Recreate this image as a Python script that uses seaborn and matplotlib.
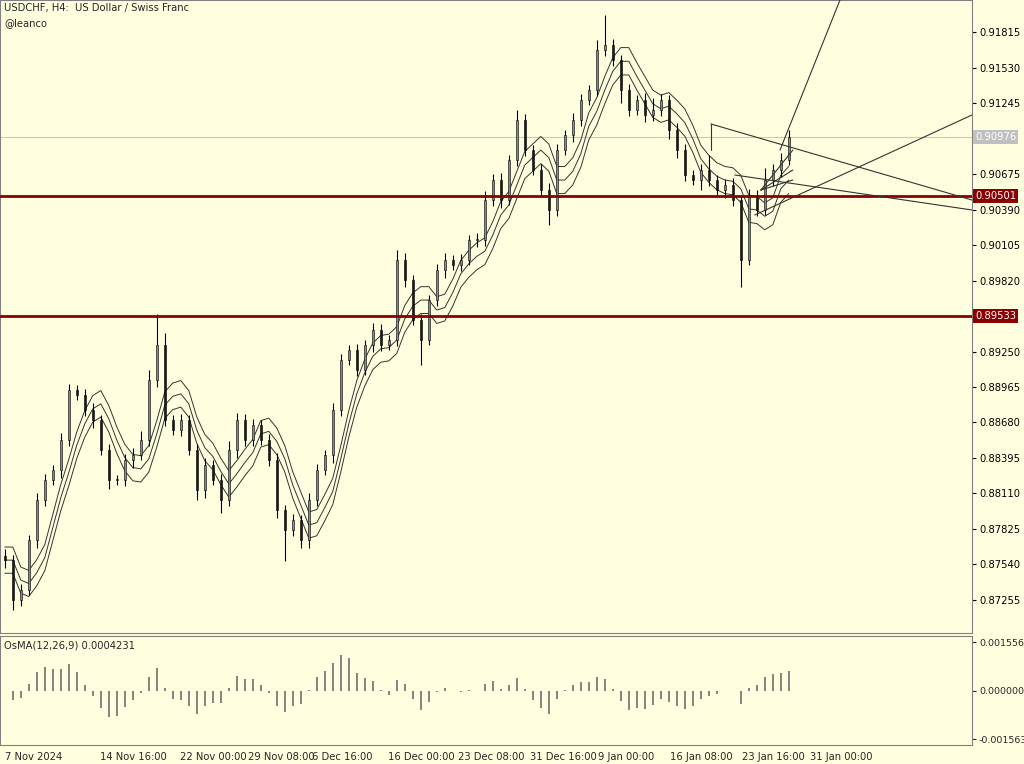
import matplotlib
matplotlib.use("Agg")
import matplotlib.pyplot as plt
import seaborn as sns
import numpy as np
import pandas as pd

# coarse bars (each one stands for a few H4 candles)
closes = [0.87575, 0.87254, 0.87334, 0.87736, 0.88057, 0.88218, 0.88298, 0.88539, 0.88940, 0.88900,
          0.88780, 0.88699, 0.88458, 0.88218, 0.88218, 0.88378, 0.88418, 0.88539, 0.89021, 0.89302,
          0.88699, 0.88619, 0.88699, 0.88458, 0.88137, 0.88338, 0.88218, 0.88057, 0.88458, 0.88699,
          0.88539, 0.88659, 0.88539, 0.88378, 0.87977, 0.87816, 0.87896, 0.87736, 0.88057, 0.88298,
          0.88418, 0.88780, 0.89181, 0.89261, 0.89101, 0.89302, 0.89422, 0.89302, 0.89342, 0.89984,
          0.89824, 0.89502, 0.89342, 0.89663, 0.89904, 0.89984, 0.89944, 0.89984, 0.90145, 0.90145,
          0.90466, 0.90627, 0.90466, 0.90787, 0.91108, 0.90867, 0.90707, 0.90546, 0.90386, 0.90867,
          0.90988, 0.91108, 0.91269, 0.91349, 0.91670, 0.91711, 0.91590, 0.91349, 0.91189, 0.91269,
          0.91149, 0.91189, 0.91269, 0.91028, 0.90867, 0.90667, 0.90627, 0.90707, 0.90627, 0.90546,
          0.90586, 0.90466, 0.89984, 0.90506, 0.90386, 0.90627, 0.90707, 0.90787, 0.90976]
wick_up = [0.0006, 0.0004, 0.0005, 0.0004, 0.0006, 0.0005, 0.0004, 0.0006, 0.0005, 0.0004,
           0.0005, 0.0006, 0.0004, 0.0005, 0.0004, 0.0005, 0.0006, 0.0007, 0.0008, 0.0025,
           0.0010, 0.0004, 0.0005, 0.0004, 0.0005, 0.0006, 0.0004, 0.0005, 0.0007, 0.0006,
           0.0005, 0.0005, 0.0004, 0.0005, 0.0006, 0.0004, 0.0005, 0.0004, 0.0006, 0.0005,
           0.0004, 0.0006, 0.0005, 0.0004, 0.0005, 0.0004, 0.0006, 0.0005, 0.0004, 0.0008,
           0.0006, 0.0004, 0.0005, 0.0004, 0.0005, 0.0006, 0.0004, 0.0005, 0.0004, 0.0006,
           0.0007, 0.0005, 0.0006, 0.0004, 0.0008, 0.0005, 0.0004, 0.0005, 0.0006, 0.0005,
           0.0004, 0.0006, 0.0005, 0.0004, 0.0008, 0.0024, 0.0005, 0.0004, 0.0005, 0.0004,
           0.0006, 0.0010, 0.0005, 0.0004, 0.0006, 0.0005, 0.0004, 0.0005, 0.0012, 0.0004,
           0.0005, 0.0006, 0.0004, 0.0005, 0.0004, 0.0010, 0.0005, 0.0006, 0.0005]
wick_dn = [0.0006, 0.0008, 0.0005, 0.0004, 0.0006, 0.0005, 0.0004, 0.0006, 0.0005, 0.0004,
           0.0005, 0.0006, 0.0004, 0.0007, 0.0004, 0.0005, 0.0006, 0.0004, 0.0005, 0.0006,
           0.0005, 0.0004, 0.0005, 0.0004, 0.0008, 0.0006, 0.0004, 0.0010, 0.0005, 0.0006,
           0.0005, 0.0005, 0.0004, 0.0005, 0.0006, 0.0025, 0.0005, 0.0006, 0.0006, 0.0005,
           0.0004, 0.0006, 0.0005, 0.0004, 0.0005, 0.0004, 0.0006, 0.0005, 0.0004, 0.0005,
           0.0006, 0.0004, 0.0020, 0.0004, 0.0005, 0.0006, 0.0004, 0.0005, 0.0004, 0.0006,
           0.0005, 0.0005, 0.0006, 0.0004, 0.0005, 0.0005, 0.0004, 0.0005, 0.0012, 0.0005,
           0.0004, 0.0006, 0.0005, 0.0004, 0.0005, 0.0005, 0.0005, 0.0010, 0.0005, 0.0004,
           0.0006, 0.0005, 0.0005, 0.0007, 0.0006, 0.0005, 0.0004, 0.0008, 0.0005, 0.0004,
           0.0006, 0.0005, 0.0022, 0.0004, 0.0005, 0.0004, 0.0005, 0.0006, 0.0004]

level_hi = 0.90501
level_lo = 0.89533
last_price = 0.90976
price_ticks = [0.91815, 0.91530, 0.91245, 0.90675, 0.90390, 0.90105, 0.89820,
               0.89250, 0.88965, 0.88680, 0.88395, 0.88110, 0.87825, 0.87540, 0.87255]
date_pos = [0, 11.9, 21.9, 30.4, 38.4, 47.9, 56.6, 65.6, 74.1, 83.1, 92.1, 100.6]
date_labels = ["7 Nov 2024", "14 Nov 16:00", "22 Nov 00:00", "29 Nov 08:00", "6 Dec 16:00",
               "16 Dec 00:00", "23 Dec 08:00", "31 Dec 16:00", "9 Jan 00:00", "16 Jan 08:00",
               "23 Jan 16:00", "31 Jan 00:00"]
# drawn trend lines: (x0, p0, x1, p1)
trend_lines = [(88.25, 0.91077, 120.9, 0.90466),
               (88.25, 0.91077, 88.25, 0.90867),
               (91.25, 0.90667, 120.9, 0.90386),
               (93.75, 0.90346, 120.9, 0.91149),
               (96.9, 0.90867, 104.4, 0.92072),
               (94.5, 0.90546, 98.5, 0.90867),
               (94.5, 0.90546, 98.5, 0.90707),
               (94.5, 0.90546, 98.5, 0.90627)]

bg = "#FFFFE0"
sns.set_style("white")
plt.rcParams["font.family"] = ["DejaVu Sans"]
fs = 7.2

fig = plt.figure(figsize=(10.24, 7.64), dpi=100, facecolor=bg)
ax = fig.add_axes([0.0, 1 - 633 / 764, 972 / 1024, 633 / 764])
ax2 = fig.add_axes([0.0, 1 - 745 / 764, 972 / 1024, 109 / 764])
for a in (ax, ax2):
    a.set_facecolor(bg)
    for s in a.spines.values():
        s.set_color("#808080")

df = pd.DataFrame({"i": np.arange(len(closes)), "close": closes})
df["open"] = df["close"].shift(1).fillna(df["close"].iloc[0] + 0.0003)
df["high"] = df[["open", "close"]].max(axis=1) + np.array(wick_up)
df["low"] = df[["open", "close"]].min(axis=1) - np.array(wick_dn)

for r in df.itertuples():
    ax.vlines(r.i, r.low, r.high, color="black", lw=0.8, zorder=3)
    up = r.close >= r.open
    ax.bar(r.i, abs(r.close - r.open) or 0.00005, bottom=min(r.open, r.close), width=0.3,
           color="#8a8a8a" if up else "#1a1a1a", edgecolor="black", lw=0.4, zorder=4)

# envelope of moving average
df["mid"] = df["close"].rolling(4, min_periods=1).mean().shift(1).bfill()
df["upper"] = df["mid"] * 1.0012
df["lower"] = df["mid"] * 0.9988
for col in ("mid", "upper", "lower"):
    sns.lineplot(data=df, x="i", y=col, ax=ax, color="#333333", lw=0.7, zorder=2)

ax.axhline(level_hi, color="#8B0000", lw=2, zorder=5)
ax.axhline(level_lo, color="#8B0000", lw=2, zorder=5)
ax.axhline(last_price, color="#c8c8c8", lw=0.8, zorder=1)
for x0, p0, x1, p1 in trend_lines:
    ax.plot([x0, x1], [p0, p1], color="#333333", lw=0.8, zorder=6)

xmin, xmax = -0.6, 120.9
ax.set_xlim(xmin, xmax)
ax.set_ylim(0.86990, 0.92072)
ax.set_xticks([])
ax.yaxis.tick_right()
ax.set_yticks(price_ticks)
ax.set_yticklabels([f"{p:.5f}" for p in price_ticks], fontsize=fs)
ax.tick_params(axis="y", length=3, pad=2, colors="black")
ax.set_ylabel("")
ax.set_xlabel("")
for p, fc, tc in [(level_hi, "#8B0000", "white"), (level_lo, "#8B0000", "white"),
                  (last_price, "#c0c0c0", "white")]:
    ax.text(1.003, p, f"{p:.5f}", transform=ax.get_yaxis_transform(), fontsize=fs, color=tc,
            va="center", ha="left", clip_on=False,
            bbox=dict(boxstyle="square,pad=0.2", fc=fc, ec="none"))
ax.text(0.004, 0.995, "USDCHF, H4:  US Dollar / Swiss Franc", transform=ax.transAxes,
        fontsize=fs, va="top")
ax.text(0.004, 0.972, "@leanco", transform=ax.transAxes, fontsize=fs, va="top")

# OsMA histogram
ema_f = df["close"].ewm(span=5, adjust=False).mean()
ema_s = df["close"].ewm(span=10, adjust=False).mean()
macd = ema_f - ema_s
osma = macd - macd.ewm(span=4, adjust=False).mean()
ax2.vlines(df["i"], 0, osma, color="#707070", lw=1.2)
ax2.set_xlim(xmin, xmax)
ax2.set_ylim(-0.00175, 0.00175)
ax2.yaxis.tick_right()
ax2.set_yticks([0.0015565, 0.0, -0.0015639])
ax2.set_yticklabels(["0.0015565", "0.0000000", "-0.0015639"], fontsize=6.8)
ax2.tick_params(axis="y", length=3, pad=2)
ax2.set_xticks(date_pos)
ax2.set_xticklabels(date_labels, fontsize=fs, ha="left")
ax2.tick_params(axis="x", length=3, pad=2)
ax2.text(0.004, 0.96, "OsMA(12,26,9) 0.0004231", transform=ax2.transAxes, fontsize=fs, va="top")

fig.savefig("out.png", dpi=100, facecolor=bg)
